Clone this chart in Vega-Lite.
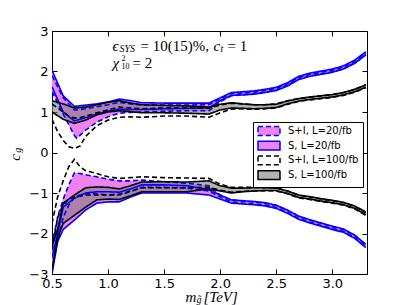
{
  "$schema": "https://vega.github.io/schema/vega-lite/v6.json",
  "width": 315,
  "height": 243,
  "padding": {"left": 52, "top": 31, "right": 40, "bottom": 31},
  "autosize": {"type": "none"},
  "config": {
    "view": {"stroke": "black", "strokeWidth": 1},
    "axis": {"grid": false, "domain": false, "tickColor": "black", "tickSize": -5, "tickWidth": 1, "labelFont": "DejaVu Sans", "labelFontSize": 13, "labelColor": "black", "title": null, "labelFlush": false},
    "legend": {"orient": "none", "legendX": 201, "legendY": 91, "fillColor": "white", "strokeColor": "black", "padding": 4, "title": null, "symbolType": "M-2.75,-1.1H2.75V1.1H-2.75Z", "symbolSize": 64, "symbolStrokeWidth": 1.5, "labelFont": "DejaVu Sans", "labelFontSize": 10, "labelColor": "black", "labelOffset": 14, "symbolOffset": 7, "rowPadding": -1.3, "labelLimit": 200}
  },
  "datasets": {
    "bands": [
      {"band": "S+I, L=20/fb", "reg": "u", "x": 0.5, "lo": 1.5, "hi": 1.9},
      {"band": "S+I, L=20/fb", "reg": "u", "x": 0.6, "lo": 0.95, "hi": 1.35},
      {"band": "S+I, L=20/fb", "reg": "u", "x": 0.7, "lo": 0.42, "hi": 1.05},
      {"band": "S+I, L=20/fb", "reg": "u", "x": 0.72, "lo": 0.35, "hi": 1.05},
      {"band": "S+I, L=20/fb", "reg": "u", "x": 0.8, "lo": 0.55, "hi": 1.08},
      {"band": "S+I, L=20/fb", "reg": "u", "x": 0.9, "lo": 0.75, "hi": 1.13},
      {"band": "S+I, L=20/fb", "reg": "u", "x": 1.0, "lo": 0.88, "hi": 1.18},
      {"band": "S+I, L=20/fb", "reg": "u", "x": 1.1, "lo": 0.97, "hi": 1.24},
      {"band": "S+I, L=20/fb", "reg": "u", "x": 1.2, "lo": 0.99, "hi": 1.2},
      {"band": "S+I, L=20/fb", "reg": "u", "x": 1.3, "lo": 1.0, "hi": 1.17},
      {"band": "S+I, L=20/fb", "reg": "u", "x": 1.5, "lo": 1.02, "hi": 1.17},
      {"band": "S+I, L=20/fb", "reg": "u", "x": 1.7, "lo": 1.03, "hi": 1.17},
      {"band": "S+I, L=20/fb", "reg": "u", "x": 1.9, "lo": 1.03, "hi": 1.18},
      {"band": "S+I, L=20/fb", "reg": "u", "x": 2.0, "lo": 1.25, "hi": 1.32},
      {"band": "S+I, L=20/fb", "reg": "u", "x": 2.1, "lo": 1.4, "hi": 1.46},
      {"band": "S+I, L=20/fb", "reg": "u", "x": 2.2, "lo": 1.43, "hi": 1.47},
      {"band": "S+I, L=20/fb", "reg": "u", "x": 2.3, "lo": 1.45, "hi": 1.49},
      {"band": "S+I, L=20/fb", "reg": "u", "x": 2.4, "lo": 1.49, "hi": 1.53},
      {"band": "S+I, L=20/fb", "reg": "u", "x": 2.5, "lo": 1.54, "hi": 1.58},
      {"band": "S+I, L=20/fb", "reg": "u", "x": 2.6, "lo": 1.66, "hi": 1.7},
      {"band": "S+I, L=20/fb", "reg": "u", "x": 2.7, "lo": 1.81, "hi": 1.85},
      {"band": "S+I, L=20/fb", "reg": "u", "x": 2.8, "lo": 1.89, "hi": 1.93},
      {"band": "S+I, L=20/fb", "reg": "u", "x": 2.9, "lo": 1.94, "hi": 1.98},
      {"band": "S+I, L=20/fb", "reg": "u", "x": 3.0, "lo": 1.99, "hi": 2.03},
      {"band": "S+I, L=20/fb", "reg": "u", "x": 3.1, "lo": 2.07, "hi": 2.11},
      {"band": "S+I, L=20/fb", "reg": "u", "x": 3.2, "lo": 2.21, "hi": 2.25},
      {"band": "S+I, L=20/fb", "reg": "u", "x": 3.3, "lo": 2.42, "hi": 2.46},

      {"band": "S+I, L=20/fb", "reg": "l", "x": 0.5, "lo": -2.9, "hi": -2.3},
      {"band": "S+I, L=20/fb", "reg": "l", "x": 0.55, "lo": -2.2, "hi": -1.6},
      {"band": "S+I, L=20/fb", "reg": "l", "x": 0.6, "lo": -1.6, "hi": -1.15},
      {"band": "S+I, L=20/fb", "reg": "l", "x": 0.65, "lo": -1.3, "hi": -0.8},
      {"band": "S+I, L=20/fb", "reg": "l", "x": 0.7, "lo": -1.1, "hi": -0.5},
      {"band": "S+I, L=20/fb", "reg": "l", "x": 0.75, "lo": -1.05, "hi": -0.52},
      {"band": "S+I, L=20/fb", "reg": "l", "x": 0.8, "lo": -1.02, "hi": -0.55},
      {"band": "S+I, L=20/fb", "reg": "l", "x": 0.9, "lo": -1.02, "hi": -0.6},
      {"band": "S+I, L=20/fb", "reg": "l", "x": 1.0, "lo": -1.05, "hi": -0.66},
      {"band": "S+I, L=20/fb", "reg": "l", "x": 1.1, "lo": -1.05, "hi": -0.7},
      {"band": "S+I, L=20/fb", "reg": "l", "x": 1.2, "lo": -0.97, "hi": -0.7},
      {"band": "S+I, L=20/fb", "reg": "l", "x": 1.3, "lo": -0.86, "hi": -0.68},
      {"band": "S+I, L=20/fb", "reg": "l", "x": 1.5, "lo": -0.86, "hi": -0.72},
      {"band": "S+I, L=20/fb", "reg": "l", "x": 1.7, "lo": -0.88, "hi": -0.76},
      {"band": "S+I, L=20/fb", "reg": "l", "x": 1.9, "lo": -0.95, "hi": -0.82},
      {"band": "S+I, L=20/fb", "reg": "l", "x": 2.0, "lo": -1.1, "hi": -1.05},
      {"band": "S+I, L=20/fb", "reg": "l", "x": 2.1, "lo": -1.22, "hi": -1.17},
      {"band": "S+I, L=20/fb", "reg": "l", "x": 2.2, "lo": -1.25, "hi": -1.2},
      {"band": "S+I, L=20/fb", "reg": "l", "x": 2.3, "lo": -1.27, "hi": -1.22},
      {"band": "S+I, L=20/fb", "reg": "l", "x": 2.4, "lo": -1.3, "hi": -1.25},
      {"band": "S+I, L=20/fb", "reg": "l", "x": 2.5, "lo": -1.36, "hi": -1.31},
      {"band": "S+I, L=20/fb", "reg": "l", "x": 2.6, "lo": -1.48, "hi": -1.43},
      {"band": "S+I, L=20/fb", "reg": "l", "x": 2.7, "lo": -1.63, "hi": -1.58},
      {"band": "S+I, L=20/fb", "reg": "l", "x": 2.8, "lo": -1.72, "hi": -1.67},
      {"band": "S+I, L=20/fb", "reg": "l", "x": 2.9, "lo": -1.8, "hi": -1.75},
      {"band": "S+I, L=20/fb", "reg": "l", "x": 3.0, "lo": -1.88, "hi": -1.83},
      {"band": "S+I, L=20/fb", "reg": "l", "x": 3.1, "lo": -1.95, "hi": -1.9},
      {"band": "S+I, L=20/fb", "reg": "l", "x": 3.2, "lo": -2.1, "hi": -2.05},
      {"band": "S+I, L=20/fb", "reg": "l", "x": 3.3, "lo": -2.33, "hi": -2.28},

      {"band": "S, L=20/fb", "reg": "u", "x": 0.5, "lo": 1.62, "hi": 2.03},
      {"band": "S, L=20/fb", "reg": "u", "x": 0.6, "lo": 1.0, "hi": 1.4},
      {"band": "S, L=20/fb", "reg": "u", "x": 0.7, "lo": 0.78, "hi": 1.14},
      {"band": "S, L=20/fb", "reg": "u", "x": 0.8, "lo": 0.86, "hi": 1.17},
      {"band": "S, L=20/fb", "reg": "u", "x": 0.9, "lo": 0.95, "hi": 1.2},
      {"band": "S, L=20/fb", "reg": "u", "x": 1.0, "lo": 1.02, "hi": 1.25},
      {"band": "S, L=20/fb", "reg": "u", "x": 1.1, "lo": 1.07, "hi": 1.32},
      {"band": "S, L=20/fb", "reg": "u", "x": 1.2, "lo": 1.06, "hi": 1.28},
      {"band": "S, L=20/fb", "reg": "u", "x": 1.3, "lo": 1.06, "hi": 1.23},
      {"band": "S, L=20/fb", "reg": "u", "x": 1.5, "lo": 1.08, "hi": 1.22},
      {"band": "S, L=20/fb", "reg": "u", "x": 1.7, "lo": 1.09, "hi": 1.22},
      {"band": "S, L=20/fb", "reg": "u", "x": 1.9, "lo": 1.1, "hi": 1.22},
      {"band": "S, L=20/fb", "reg": "u", "x": 2.0, "lo": 1.28, "hi": 1.35},
      {"band": "S, L=20/fb", "reg": "u", "x": 2.1, "lo": 1.41, "hi": 1.48},
      {"band": "S, L=20/fb", "reg": "u", "x": 2.2, "lo": 1.42, "hi": 1.5},
      {"band": "S, L=20/fb", "reg": "u", "x": 2.3, "lo": 1.44, "hi": 1.52},
      {"band": "S, L=20/fb", "reg": "u", "x": 2.4, "lo": 1.48, "hi": 1.56},
      {"band": "S, L=20/fb", "reg": "u", "x": 2.5, "lo": 1.53, "hi": 1.61},
      {"band": "S, L=20/fb", "reg": "u", "x": 2.6, "lo": 1.64, "hi": 1.72},
      {"band": "S, L=20/fb", "reg": "u", "x": 2.7, "lo": 1.8, "hi": 1.88},
      {"band": "S, L=20/fb", "reg": "u", "x": 2.8, "lo": 1.88, "hi": 1.96},
      {"band": "S, L=20/fb", "reg": "u", "x": 2.9, "lo": 1.93, "hi": 2.01},
      {"band": "S, L=20/fb", "reg": "u", "x": 3.0, "lo": 1.98, "hi": 2.06},
      {"band": "S, L=20/fb", "reg": "u", "x": 3.1, "lo": 2.06, "hi": 2.14},
      {"band": "S, L=20/fb", "reg": "u", "x": 3.2, "lo": 2.2, "hi": 2.28},
      {"band": "S, L=20/fb", "reg": "u", "x": 3.3, "lo": 2.41, "hi": 2.49},

      {"band": "S, L=20/fb", "reg": "l", "x": 0.5, "lo": -3.0, "hi": -2.6},
      {"band": "S, L=20/fb", "reg": "l", "x": 0.55, "lo": -2.2, "hi": -2.0},
      {"band": "S, L=20/fb", "reg": "l", "x": 0.6, "lo": -1.9, "hi": -1.35},
      {"band": "S, L=20/fb", "reg": "l", "x": 0.7, "lo": -1.67, "hi": -1.13},
      {"band": "S, L=20/fb", "reg": "l", "x": 0.8, "lo": -1.42, "hi": -1.0},
      {"band": "S, L=20/fb", "reg": "l", "x": 0.9, "lo": -1.25, "hi": -0.97},
      {"band": "S, L=20/fb", "reg": "l", "x": 1.0, "lo": -1.22, "hi": -0.97},
      {"band": "S, L=20/fb", "reg": "l", "x": 1.1, "lo": -1.22, "hi": -0.98},
      {"band": "S, L=20/fb", "reg": "l", "x": 1.2, "lo": -1.1, "hi": -0.9},
      {"band": "S, L=20/fb", "reg": "l", "x": 1.3, "lo": -1.0, "hi": -0.8},
      {"band": "S, L=20/fb", "reg": "l", "x": 1.5, "lo": -1.0, "hi": -0.8},
      {"band": "S, L=20/fb", "reg": "l", "x": 1.7, "lo": -1.0, "hi": -0.82},
      {"band": "S, L=20/fb", "reg": "l", "x": 1.9, "lo": -1.05, "hi": -0.92},
      {"band": "S, L=20/fb", "reg": "l", "x": 2.0, "lo": -1.15, "hi": -1.05},
      {"band": "S, L=20/fb", "reg": "l", "x": 2.1, "lo": -1.25, "hi": -1.17},
      {"band": "S, L=20/fb", "reg": "l", "x": 2.2, "lo": -1.27, "hi": -1.19},
      {"band": "S, L=20/fb", "reg": "l", "x": 2.3, "lo": -1.29, "hi": -1.21},
      {"band": "S, L=20/fb", "reg": "l", "x": 2.4, "lo": -1.32, "hi": -1.24},
      {"band": "S, L=20/fb", "reg": "l", "x": 2.5, "lo": -1.38, "hi": -1.3},
      {"band": "S, L=20/fb", "reg": "l", "x": 2.6, "lo": -1.5, "hi": -1.42},
      {"band": "S, L=20/fb", "reg": "l", "x": 2.7, "lo": -1.65, "hi": -1.57},
      {"band": "S, L=20/fb", "reg": "l", "x": 2.8, "lo": -1.74, "hi": -1.66},
      {"band": "S, L=20/fb", "reg": "l", "x": 2.9, "lo": -1.82, "hi": -1.74},
      {"band": "S, L=20/fb", "reg": "l", "x": 3.0, "lo": -1.9, "hi": -1.82},
      {"band": "S, L=20/fb", "reg": "l", "x": 3.1, "lo": -1.97, "hi": -1.89},
      {"band": "S, L=20/fb", "reg": "l", "x": 3.2, "lo": -2.12, "hi": -2.04},
      {"band": "S, L=20/fb", "reg": "l", "x": 3.3, "lo": -2.35, "hi": -2.27},

      {"band": "S+I, L=100/fb", "reg": "u", "x": 0.5, "lo": 0.82, "hi": 1.2},
      {"band": "S+I, L=100/fb", "reg": "u", "x": 0.55, "lo": 0.52, "hi": 1.1},
      {"band": "S+I, L=100/fb", "reg": "u", "x": 0.6, "lo": 0.3, "hi": 1.0},
      {"band": "S+I, L=100/fb", "reg": "u", "x": 0.65, "lo": 0.14, "hi": 0.9},
      {"band": "S+I, L=100/fb", "reg": "u", "x": 0.7, "lo": 0.1, "hi": 0.85},
      {"band": "S+I, L=100/fb", "reg": "u", "x": 0.75, "lo": 0.16, "hi": 0.86},
      {"band": "S+I, L=100/fb", "reg": "u", "x": 0.8, "lo": 0.4, "hi": 0.9},
      {"band": "S+I, L=100/fb", "reg": "u", "x": 0.9, "lo": 0.66, "hi": 0.98},
      {"band": "S+I, L=100/fb", "reg": "u", "x": 1.0, "lo": 0.8, "hi": 1.05},
      {"band": "S+I, L=100/fb", "reg": "u", "x": 1.1, "lo": 0.87, "hi": 1.12},
      {"band": "S+I, L=100/fb", "reg": "u", "x": 1.2, "lo": 0.88, "hi": 1.1},
      {"band": "S+I, L=100/fb", "reg": "u", "x": 1.3, "lo": 0.87, "hi": 1.08},
      {"band": "S+I, L=100/fb", "reg": "u", "x": 1.5, "lo": 0.9, "hi": 1.1},
      {"band": "S+I, L=100/fb", "reg": "u", "x": 1.7, "lo": 0.9, "hi": 1.1},
      {"band": "S+I, L=100/fb", "reg": "u", "x": 1.9, "lo": 0.87, "hi": 1.1},
      {"band": "S+I, L=100/fb", "reg": "u", "x": 2.0, "lo": 0.98, "hi": 1.17},
      {"band": "S+I, L=100/fb", "reg": "u", "x": 2.1, "lo": 1.07, "hi": 1.22},
      {"band": "S+I, L=100/fb", "reg": "u", "x": 2.2, "lo": 1.08, "hi": 1.2},
      {"band": "S+I, L=100/fb", "reg": "u", "x": 2.3, "lo": 1.07, "hi": 1.18},
      {"band": "S+I, L=100/fb", "reg": "u", "x": 2.4, "lo": 1.08, "hi": 1.18},
      {"band": "S+I, L=100/fb", "reg": "u", "x": 2.5, "lo": 1.1, "hi": 1.2},
      {"band": "S+I, L=100/fb", "reg": "u", "x": 2.6, "lo": 1.19, "hi": 1.28},
      {"band": "S+I, L=100/fb", "reg": "u", "x": 2.7, "lo": 1.26, "hi": 1.33},
      {"band": "S+I, L=100/fb", "reg": "u", "x": 2.8, "lo": 1.3, "hi": 1.37},
      {"band": "S+I, L=100/fb", "reg": "u", "x": 2.9, "lo": 1.33, "hi": 1.4},
      {"band": "S+I, L=100/fb", "reg": "u", "x": 3.0, "lo": 1.36, "hi": 1.43},
      {"band": "S+I, L=100/fb", "reg": "u", "x": 3.1, "lo": 1.41, "hi": 1.48},
      {"band": "S+I, L=100/fb", "reg": "u", "x": 3.2, "lo": 1.49, "hi": 1.56},
      {"band": "S+I, L=100/fb", "reg": "u", "x": 3.3, "lo": 1.6, "hi": 1.67},

      {"band": "S+I, L=100/fb", "reg": "l", "x": 0.5, "lo": -2.4, "hi": -1.75},
      {"band": "S+I, L=100/fb", "reg": "l", "x": 0.55, "lo": -1.6, "hi": -1.1},
      {"band": "S+I, L=100/fb", "reg": "l", "x": 0.6, "lo": -1.3, "hi": -0.7},
      {"band": "S+I, L=100/fb", "reg": "l", "x": 0.65, "lo": -1.15, "hi": -0.35},
      {"band": "S+I, L=100/fb", "reg": "l", "x": 0.7, "lo": -1.1, "hi": -0.17},
      {"band": "S+I, L=100/fb", "reg": "l", "x": 0.75, "lo": -1.08, "hi": -0.35},
      {"band": "S+I, L=100/fb", "reg": "l", "x": 0.8, "lo": -1.05, "hi": -0.45},
      {"band": "S+I, L=100/fb", "reg": "l", "x": 0.9, "lo": -1.05, "hi": -0.52},
      {"band": "S+I, L=100/fb", "reg": "l", "x": 1.0, "lo": -1.05, "hi": -0.6},
      {"band": "S+I, L=100/fb", "reg": "l", "x": 1.1, "lo": -1.03, "hi": -0.64},
      {"band": "S+I, L=100/fb", "reg": "l", "x": 1.2, "lo": -0.95, "hi": -0.62},
      {"band": "S+I, L=100/fb", "reg": "l", "x": 1.3, "lo": -0.87, "hi": -0.6},
      {"band": "S+I, L=100/fb", "reg": "l", "x": 1.5, "lo": -0.87, "hi": -0.62},
      {"band": "S+I, L=100/fb", "reg": "l", "x": 1.7, "lo": -0.87, "hi": -0.63},
      {"band": "S+I, L=100/fb", "reg": "l", "x": 1.9, "lo": -0.86, "hi": -0.64},
      {"band": "S+I, L=100/fb", "reg": "l", "x": 2.0, "lo": -0.93, "hi": -0.78},
      {"band": "S+I, L=100/fb", "reg": "l", "x": 2.1, "lo": -0.98, "hi": -0.86},
      {"band": "S+I, L=100/fb", "reg": "l", "x": 2.2, "lo": -0.96, "hi": -0.86},
      {"band": "S+I, L=100/fb", "reg": "l", "x": 2.3, "lo": -0.95, "hi": -0.86},
      {"band": "S+I, L=100/fb", "reg": "l", "x": 2.4, "lo": -0.94, "hi": -0.86},
      {"band": "S+I, L=100/fb", "reg": "l", "x": 2.5, "lo": -0.95, "hi": -0.87},
      {"band": "S+I, L=100/fb", "reg": "l", "x": 2.6, "lo": -1.02, "hi": -0.95},
      {"band": "S+I, L=100/fb", "reg": "l", "x": 2.7, "lo": -1.12, "hi": -1.05},
      {"band": "S+I, L=100/fb", "reg": "l", "x": 2.8, "lo": -1.16, "hi": -1.1},
      {"band": "S+I, L=100/fb", "reg": "l", "x": 2.9, "lo": -1.21, "hi": -1.15},
      {"band": "S+I, L=100/fb", "reg": "l", "x": 3.0, "lo": -1.25, "hi": -1.19},
      {"band": "S+I, L=100/fb", "reg": "l", "x": 3.1, "lo": -1.3, "hi": -1.24},
      {"band": "S+I, L=100/fb", "reg": "l", "x": 3.2, "lo": -1.39, "hi": -1.33},
      {"band": "S+I, L=100/fb", "reg": "l", "x": 3.3, "lo": -1.55, "hi": -1.48},

      {"band": "S, L=100/fb", "reg": "u", "x": 0.5, "lo": 1.0, "hi": 1.28},
      {"band": "S, L=100/fb", "reg": "u", "x": 0.6, "lo": 0.82, "hi": 1.2},
      {"band": "S, L=100/fb", "reg": "u", "x": 0.7, "lo": 0.72, "hi": 1.1},
      {"band": "S, L=100/fb", "reg": "u", "x": 0.8, "lo": 0.8, "hi": 1.12},
      {"band": "S, L=100/fb", "reg": "u", "x": 0.9, "lo": 0.93, "hi": 1.18},
      {"band": "S, L=100/fb", "reg": "u", "x": 1.0, "lo": 1.0, "hi": 1.24},
      {"band": "S, L=100/fb", "reg": "u", "x": 1.1, "lo": 1.03, "hi": 1.28},
      {"band": "S, L=100/fb", "reg": "u", "x": 1.2, "lo": 1.01, "hi": 1.22},
      {"band": "S, L=100/fb", "reg": "u", "x": 1.3, "lo": 0.98, "hi": 1.18},
      {"band": "S, L=100/fb", "reg": "u", "x": 1.5, "lo": 0.98, "hi": 1.16},
      {"band": "S, L=100/fb", "reg": "u", "x": 1.7, "lo": 0.97, "hi": 1.15},
      {"band": "S, L=100/fb", "reg": "u", "x": 1.9, "lo": 0.95, "hi": 1.12},
      {"band": "S, L=100/fb", "reg": "u", "x": 2.0, "lo": 1.05, "hi": 1.19},
      {"band": "S, L=100/fb", "reg": "u", "x": 2.1, "lo": 1.1, "hi": 1.23},
      {"band": "S, L=100/fb", "reg": "u", "x": 2.2, "lo": 1.09, "hi": 1.2},
      {"band": "S, L=100/fb", "reg": "u", "x": 2.3, "lo": 1.08, "hi": 1.18},
      {"band": "S, L=100/fb", "reg": "u", "x": 2.4, "lo": 1.09, "hi": 1.18},
      {"band": "S, L=100/fb", "reg": "u", "x": 2.5, "lo": 1.11, "hi": 1.19},
      {"band": "S, L=100/fb", "reg": "u", "x": 2.6, "lo": 1.2, "hi": 1.27},
      {"band": "S, L=100/fb", "reg": "u", "x": 2.7, "lo": 1.27, "hi": 1.33},
      {"band": "S, L=100/fb", "reg": "u", "x": 2.8, "lo": 1.31, "hi": 1.37},
      {"band": "S, L=100/fb", "reg": "u", "x": 2.9, "lo": 1.34, "hi": 1.4},
      {"band": "S, L=100/fb", "reg": "u", "x": 3.0, "lo": 1.37, "hi": 1.43},
      {"band": "S, L=100/fb", "reg": "u", "x": 3.1, "lo": 1.42, "hi": 1.48},
      {"band": "S, L=100/fb", "reg": "u", "x": 3.2, "lo": 1.5, "hi": 1.56},
      {"band": "S, L=100/fb", "reg": "u", "x": 3.3, "lo": 1.61, "hi": 1.67},

      {"band": "S, L=100/fb", "reg": "l", "x": 0.5, "lo": -2.9, "hi": -2.3},
      {"band": "S, L=100/fb", "reg": "l", "x": 0.55, "lo": -2.1, "hi": -1.9},
      {"band": "S, L=100/fb", "reg": "l", "x": 0.6, "lo": -1.75, "hi": -1.25},
      {"band": "S, L=100/fb", "reg": "l", "x": 0.7, "lo": -1.55, "hi": -1.05},
      {"band": "S, L=100/fb", "reg": "l", "x": 0.8, "lo": -1.35, "hi": -0.87},
      {"band": "S, L=100/fb", "reg": "l", "x": 0.9, "lo": -1.17, "hi": -0.85},
      {"band": "S, L=100/fb", "reg": "l", "x": 1.0, "lo": -1.15, "hi": -0.86},
      {"band": "S, L=100/fb", "reg": "l", "x": 1.1, "lo": -1.16, "hi": -0.9},
      {"band": "S, L=100/fb", "reg": "l", "x": 1.2, "lo": -1.07, "hi": -0.82},
      {"band": "S, L=100/fb", "reg": "l", "x": 1.3, "lo": -0.97, "hi": -0.73},
      {"band": "S, L=100/fb", "reg": "l", "x": 1.5, "lo": -0.97, "hi": -0.72},
      {"band": "S, L=100/fb", "reg": "l", "x": 1.7, "lo": -0.97, "hi": -0.73},
      {"band": "S, L=100/fb", "reg": "l", "x": 1.9, "lo": -0.9, "hi": -0.7},
      {"band": "S, L=100/fb", "reg": "l", "x": 2.0, "lo": -0.95, "hi": -0.82},
      {"band": "S, L=100/fb", "reg": "l", "x": 2.1, "lo": -1.0, "hi": -0.88},
      {"band": "S, L=100/fb", "reg": "l", "x": 2.2, "lo": -0.97, "hi": -0.88},
      {"band": "S, L=100/fb", "reg": "l", "x": 2.3, "lo": -0.95, "hi": -0.87},
      {"band": "S, L=100/fb", "reg": "l", "x": 2.4, "lo": -0.94, "hi": -0.87},
      {"band": "S, L=100/fb", "reg": "l", "x": 2.5, "lo": -0.94, "hi": -0.88},
      {"band": "S, L=100/fb", "reg": "l", "x": 2.6, "lo": -1.01, "hi": -0.95},
      {"band": "S, L=100/fb", "reg": "l", "x": 2.7, "lo": -1.11, "hi": -1.05},
      {"band": "S, L=100/fb", "reg": "l", "x": 2.8, "lo": -1.15, "hi": -1.09},
      {"band": "S, L=100/fb", "reg": "l", "x": 2.9, "lo": -1.2, "hi": -1.14},
      {"band": "S, L=100/fb", "reg": "l", "x": 3.0, "lo": -1.24, "hi": -1.18},
      {"band": "S, L=100/fb", "reg": "l", "x": 3.1, "lo": -1.29, "hi": -1.23},
      {"band": "S, L=100/fb", "reg": "l", "x": 3.2, "lo": -1.38, "hi": -1.32},
      {"band": "S, L=100/fb", "reg": "l", "x": 3.3, "lo": -1.54, "hi": -1.47}
    ],
    "one": [{}]
  },
  "layer": [
    {
      "data": {"name": "bands"},
      "transform": [{"filter": "datum.band === 'S+I, L=20/fb' || datum.band === 'S, L=20/fb'"}],
      "mark": {"type": "area", "clip": true},
      "encoding": {
        "x": {"field": "x", "type": "quantitative", "scale": {"domain": [0.5, 3.31], "nice": false, "zero": false}, "axis": {"orient": "bottom", "values": [0.5, 1.0, 1.5, 2.0, 2.5, 3.0], "format": ".1f", "labelPadding": 8}},
        "y": {"field": "lo", "type": "quantitative", "scale": {"domain": [-3, 3], "nice": false}, "axis": {"orient": "left", "values": [-3, -2, -1, 0, 1, 2, 3], "format": "d", "labelPadding": 9}},
        "y2": {"field": "hi"},
        "detail": [{"field": "reg"}, {"field": "band"}],
        "fill": {"field": "band", "type": "nominal", "scale": {"domain": ["S+I, L=20/fb", "S, L=20/fb", "S+I, L=100/fb", "S, L=100/fb"], "range": ["#ee82ee", "#ee82ee", "white", "rgba(128,128,128,0.6)"]}}
      }
    },
    {
      "data": {"name": "bands"},
      "transform": [{"filter": "datum.band === 'S, L=100/fb'"}],
      "mark": {"type": "area", "clip": true},
      "encoding": {
        "x": {"field": "x", "type": "quantitative", "axis": null},
        "y": {"field": "lo", "type": "quantitative", "axis": null},
        "y2": {"field": "hi"},
        "detail": {"field": "reg"},
        "fill": {"field": "band", "type": "nominal"}
      }
    },
    {
      "data": {"name": "bands"},
      "transform": [{"fold": ["lo", "hi"], "as": ["bound", "val"]}],
      "mark": {"type": "line", "clip": true, "strokeWidth": 1.6},
      "encoding": {
        "x": {"field": "x", "type": "quantitative", "axis": null},
        "y": {"field": "val", "type": "quantitative", "axis": null},
        "detail": [{"field": "reg"}, {"field": "bound"}],
        "stroke": {"field": "band", "type": "nominal", "scale": {"domain": ["S+I, L=20/fb", "S, L=20/fb", "S+I, L=100/fb", "S, L=100/fb"], "range": ["#0000ff", "#0000ff", "black", "black"]}},
        "strokeDash": {"field": "band", "type": "nominal", "scale": {"domain": ["S+I, L=20/fb", "S, L=20/fb", "S+I, L=100/fb", "S, L=100/fb"], "range": [[5, 3], [1, 0], [5, 3], [1, 0]]}}
      }
    },
    {
      "data": {"name": "one"},
      "mark": {"type": "point", "opacity": 0},
      "encoding": {
        "x": {"datum": 1.0, "type": "quantitative", "axis": {"orient": "top", "values": [0.5, 1.0, 1.5, 2.0, 2.5, 3.0], "labels": false}},
        "y": {"datum": 0, "type": "quantitative", "axis": {"orient": "right", "values": [-3, -2, -1, 0, 1, 2, 3], "labels": false}}
      }
    },
    {
      "data": {"name": "one"},
      "mark": {"type": "text", "font": "Liberation Serif", "fontStyle": "italic", "fontSize": 15, "align": "left", "baseline": "middle"},
      "encoding": {"x": {"datum": 1.04, "type": "quantitative", "axis": null}, "y": {"datum": 2.64, "type": "quantitative", "axis": null}, "text": {"value": "ϵ"}}
    },
    {
      "data": {"name": "one"},
      "mark": {"type": "text", "font": "Liberation Serif", "fontStyle": "italic", "fontSize": 10, "align": "left", "baseline": "middle", "dx": 7, "dy": 3},
      "encoding": {"x": {"datum": 1.04, "type": "quantitative", "axis": null}, "y": {"datum": 2.64, "type": "quantitative", "axis": null}, "text": {"value": "SYS"}}
    },
    {
      "data": {"name": "one"},
      "mark": {"type": "text", "font": "Liberation Serif", "fontSize": 15, "align": "left", "baseline": "middle", "dx": 28},
      "encoding": {"x": {"datum": 1.04, "type": "quantitative", "axis": null}, "y": {"datum": 2.64, "type": "quantitative", "axis": null}, "text": {"value": "= 10(15)%,"}}
    },
    {
      "data": {"name": "one"},
      "mark": {"type": "text", "font": "Liberation Serif", "fontStyle": "italic", "fontSize": 15, "align": "left", "baseline": "middle", "dx": 101},
      "encoding": {"x": {"datum": 1.04, "type": "quantitative", "axis": null}, "y": {"datum": 2.64, "type": "quantitative", "axis": null}, "text": {"value": "c"}}
    },
    {
      "data": {"name": "one"},
      "mark": {"type": "text", "font": "Liberation Serif", "fontStyle": "italic", "fontSize": 10, "align": "left", "baseline": "middle", "dx": 108, "dy": 3},
      "encoding": {"x": {"datum": 1.04, "type": "quantitative", "axis": null}, "y": {"datum": 2.64, "type": "quantitative", "axis": null}, "text": {"value": "t"}}
    },
    {
      "data": {"name": "one"},
      "mark": {"type": "text", "font": "Liberation Serif", "fontSize": 15, "align": "left", "baseline": "middle", "dx": 115},
      "encoding": {"x": {"datum": 1.04, "type": "quantitative", "axis": null}, "y": {"datum": 2.64, "type": "quantitative", "axis": null}, "text": {"value": "= 1"}}
    },
    {
      "data": {"name": "one"},
      "mark": {"type": "text", "font": "Liberation Serif", "fontStyle": "italic", "fontSize": 15, "align": "left", "baseline": "middle"},
      "encoding": {"x": {"datum": 1.04, "type": "quantitative", "axis": null}, "y": {"datum": 2.2, "type": "quantitative", "axis": null}, "text": {"value": "χ"}}
    },
    {
      "data": {"name": "one"},
      "mark": {"type": "text", "font": "Liberation Serif", "fontSize": 8, "align": "left", "baseline": "middle", "dx": 9, "dy": -4},
      "encoding": {"x": {"datum": 1.04, "type": "quantitative", "axis": null}, "y": {"datum": 2.2, "type": "quantitative", "axis": null}, "text": {"value": "2"}}
    },
    {
      "data": {"name": "one"},
      "mark": {"type": "text", "font": "Liberation Serif", "fontSize": 8, "align": "left", "baseline": "middle", "dx": 9, "dy": 4},
      "encoding": {"x": {"datum": 1.04, "type": "quantitative", "axis": null}, "y": {"datum": 2.2, "type": "quantitative", "axis": null}, "text": {"value": "10"}}
    },
    {
      "data": {"name": "one"},
      "mark": {"type": "text", "font": "Liberation Serif", "fontSize": 15, "align": "left", "baseline": "middle", "dx": 20},
      "encoding": {"x": {"datum": 1.04, "type": "quantitative", "axis": null}, "y": {"datum": 2.2, "type": "quantitative", "axis": null}, "text": {"value": "= 2"}}
    },
    {
      "data": {"name": "one"},
      "mark": {"type": "text", "font": "Liberation Serif", "fontStyle": "italic", "fontSize": 15, "align": "left", "baseline": "middle", "dy": 23},
      "encoding": {"x": {"datum": 1.69, "type": "quantitative", "axis": null}, "y": {"datum": -3, "type": "quantitative", "axis": null}, "text": {"value": "m"}}
    },
    {
      "data": {"name": "one"},
      "mark": {"type": "text", "font": "Liberation Serif", "fontStyle": "italic", "fontSize": 10, "align": "left", "baseline": "middle", "dx": 11, "dy": 26},
      "encoding": {"x": {"datum": 1.69, "type": "quantitative", "axis": null}, "y": {"datum": -3, "type": "quantitative", "axis": null}, "text": {"value": "g̃"}}
    },
    {
      "data": {"name": "one"},
      "mark": {"type": "text", "font": "Liberation Serif", "fontStyle": "italic", "fontSize": 15, "align": "left", "baseline": "middle", "dx": 18, "dy": 23},
      "encoding": {"x": {"datum": 1.69, "type": "quantitative", "axis": null}, "y": {"datum": -3, "type": "quantitative", "axis": null}, "text": {"value": "[TeV]"}}
    },
    {
      "data": {"name": "one"},
      "mark": {"type": "text", "font": "Liberation Serif", "fontStyle": "italic", "fontSize": 15, "align": "center", "baseline": "middle", "angle": 270, "dy": -37},
      "encoding": {"x": {"datum": 0.5, "type": "quantitative", "axis": null}, "y": {"datum": -0.12, "type": "quantitative", "axis": null}, "text": {"value": "c"}}
    },
    {
      "data": {"name": "one"},
      "mark": {"type": "text", "font": "Liberation Serif", "fontStyle": "italic", "fontSize": 10, "align": "center", "baseline": "middle", "angle": 270, "dy": -34, "dx": 7},
      "encoding": {"x": {"datum": 0.5, "type": "quantitative", "axis": null}, "y": {"datum": -0.12, "type": "quantitative", "axis": null}, "text": {"value": "g"}}
    }
  ]
}
